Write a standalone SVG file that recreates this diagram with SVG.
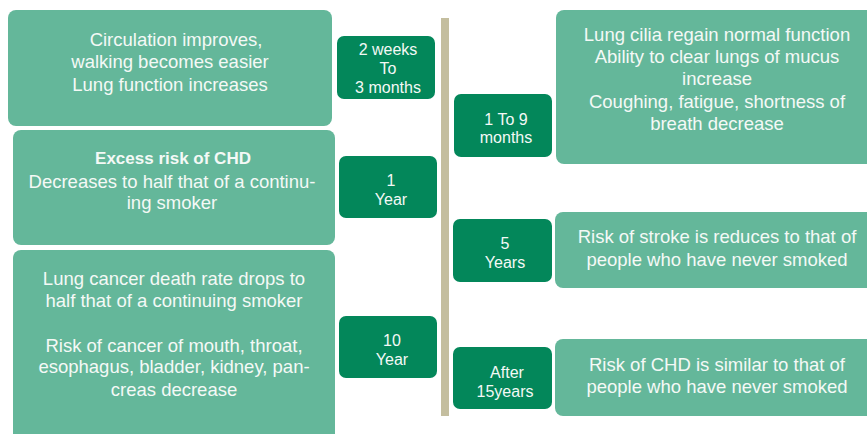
<svg xmlns="http://www.w3.org/2000/svg" width="867" height="434" viewBox="0 0 867 434">
<style>
.big{fill:#64b79a;}
.small{fill:#03875a;}
text{font-family:"Liberation Sans","DejaVu Sans",sans-serif;fill:#f4f9f6;text-anchor:middle;}
.t{font-size:18.5px;}
.s{font-size:16px;}
.b{font-weight:bold;font-size:17px;}
</style>
<rect width="867" height="434" fill="#ffffff"/>
<g id="connectors">
<rect x="441" y="18" width="8" height="398" fill="#c4be9f"/>
</g>
<g id="left1">
<rect class="big" x="8" y="10" width="324" height="116" rx="8"/>
<text class="t"><tspan x="176" y="46">Circulation improves,</tspan><tspan x="170" y="68">walking becomes easier</tspan><tspan x="170" y="91">Lung function increases</tspan></text>
</g>
<g id="left2">
<rect class="big" x="13" y="130" width="322" height="115" rx="8"/>
<text><tspan class="b" x="173" y="164">Excess risk of CHD</tspan><tspan class="t" x="172" y="188">Decreases to half that of a continu-</tspan><tspan class="t" x="172" y="209">ing smoker</tspan></text>
</g>
<g id="left3">
<rect class="big" x="13" y="250" width="322" height="200" rx="8"/>
<text class="t"><tspan x="174" y="285">Lung cancer death rate drops to</tspan><tspan x="174" y="307">half that of a continuing smoker</tspan><tspan x="174" y="352">Risk of cancer of mouth, throat,</tspan><tspan x="174" y="373">esophagus, bladder, kidney, pan-</tspan><tspan x="174" y="396">creas decrease</tspan></text>
</g>
<g id="t1">
<rect class="small" x="337" y="36" width="98" height="63" rx="7"/>
<text class="s"><tspan x="388" y="55">2 weeks</tspan><tspan x="388" y="74">To</tspan><tspan x="388" y="93">3 months</tspan></text>
</g>
<g id="t2">
<rect class="small" x="339" y="156" width="98" height="62" rx="7"/>
<text class="s"><tspan x="391" y="186">1</tspan><tspan x="391" y="205">Year</tspan></text>
</g>
<g id="t3">
<rect class="small" x="339" y="316" width="98" height="62" rx="7"/>
<text class="s"><tspan x="392" y="346">10</tspan><tspan x="392" y="365">Year</tspan></text>
</g>
<g id="t4">
<rect class="small" x="454" y="94" width="98" height="63" rx="7"/>
<text class="s"><tspan x="506" y="125">1 To 9</tspan><tspan x="506" y="143">months</tspan></text>
</g>
<g id="t5">
<rect class="small" x="453" y="219" width="99" height="63" rx="7"/>
<text class="s"><tspan x="505" y="249">5</tspan><tspan x="505" y="268">Years</tspan></text>
</g>
<g id="t6">
<rect class="small" x="453" y="347" width="99" height="62" rx="7"/>
<text class="s"><tspan x="507" y="378">After</tspan><tspan x="505" y="397">15years</tspan></text>
</g>
<g id="right1">
<rect class="big" x="556" y="10" width="322" height="154" rx="8"/>
<text class="t"><tspan x="717" y="41">Lung cilia regain normal function</tspan><tspan x="717" y="63">Ability to clear lungs of mucus</tspan><tspan x="717" y="85">increase</tspan><tspan x="717" y="108">Coughing, fatigue, shortness of</tspan><tspan x="717" y="130">breath decrease</tspan></text>
</g>
<g id="right2">
<rect class="big" x="555" y="212" width="323" height="76" rx="8"/>
<text class="t"><tspan x="717" y="243">Risk of stroke is reduces to that of</tspan><tspan x="717" y="266">people who have never smoked</tspan></text>
</g>
<g id="right3">
<rect class="big" x="555" y="339" width="323" height="77" rx="8"/>
<text class="t"><tspan x="717" y="371">Risk of CHD is similar to that of</tspan><tspan x="717" y="393">people who have never smoked</tspan></text>
</g>
</svg>
